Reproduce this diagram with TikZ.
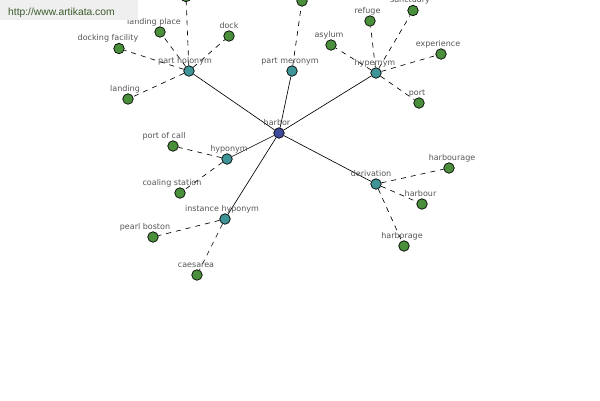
\documentclass[tikz,border=0pt]{standalone}
\usepackage{fontspec}
\setmainfont{DejaVu Sans}
\newfontfamily\wmfont{Liberation Sans}
\usetikzlibrary{backgrounds}
\definecolor{rootc}{HTML}{3F4A9A}
\definecolor{hubc}{HTML}{3E9496}
\definecolor{leafc}{HTML}{4A8F3C}
\definecolor{lblc}{HTML}{555555}
\definecolor{wmbg}{HTML}{EFEFEF}
\definecolor{wmtext}{HTML}{3B5B2B}
\begin{document}
\begin{tikzpicture}[x=1pt,y=-1pt,
  dot/.style={circle,draw=black,line width=0.7pt,minimum size=10.5pt,inner sep=0pt},
  rootdot/.style={dot,fill=rootc},
  hubdot/.style={dot,fill=hubc},
  leafdot/.style={dot,fill=leafc},
  lbl/.style={font=\fontsize{8}{9}\selectfont,text=lblc,inner sep=0pt,text depth=0pt,label distance=2pt},
  rel/.style={draw=black,line width=0.65pt},
  subrel/.style={rel,dash pattern=on 5pt off 5pt}]
\useasboundingbox (0,0) rectangle (600,400);
\clip (0,0) rectangle (600,400);
% root
\node[rootdot,label={[lbl,xshift=-2pt]above:harbor}] (h) at (279,133) {};
% hubs
\node[hubdot,label={[lbl,xshift=-4pt]above:part holonym}] (ph) at (189,71) {};
\node[hubdot,label={[lbl,xshift=-2pt]above:part meronym}] (pm) at (292,71) {};
\node[hubdot,label={[lbl,xshift=-1pt]above:hypernym}] (hy) at (376,73) {};
\node[hubdot,label={[lbl,xshift=2pt]above:hyponym}] (ho) at (227,159) {};
\node[hubdot,label={[lbl,xshift=-3pt]above:instance hyponym}] (ih) at (225,219) {};
\node[hubdot,label={[lbl,xshift=-5pt]above:derivation}] (dv) at (376,184) {};
% leaves of part holonym
\node[leafdot] (phtop) at (186,-3.5) {};
\node[leafdot,label={[lbl,xshift=-6pt]above:landing place}] (lp) at (160,32) {};
\node[leafdot,label={[lbl]above:dock}] (dk) at (229,36) {};
\node[leafdot,label={[lbl,xshift=-11pt]above:docking facility}] (df) at (119,48.5) {};
\node[leafdot,label={[lbl,xshift=-3pt]above:landing}] (ld) at (128,99) {};
% leaf of part meronym
\node[leafdot] (pmtop) at (302,1) {};
% leaves of hypernym
\node[leafdot,label={[lbl,xshift=-2.5pt]above:refuge}] (rf) at (370,21) {};
\node[leafdot,label={[lbl,xshift=-3pt]above:sanctuary}] (sc) at (413,10.5) {};
\node[leafdot,label={[lbl,xshift=-2pt]above:asylum}] (as) at (331,45) {};
\node[leafdot,label={[lbl,xshift=-3pt]above:experience}] (ex) at (441,54) {};
\node[leafdot,label={[lbl,xshift=-2pt]above:port}] (pt) at (419,103) {};
% leaves of hyponym
\node[leafdot,label={[lbl,xshift=-9pt]above:port of call}] (pc) at (173,146) {};
\node[leafdot,label={[lbl,xshift=-8pt]above:coaling station}] (cs) at (180,193) {};
% leaves of instance hyponym
\node[leafdot,label={[lbl,xshift=-8pt]above:pearl boston}] (pb) at (153,237) {};
\node[leafdot,label={[lbl,xshift=-1pt]above:caesarea}] (cz) at (197,275) {};
% leaves of derivation
\node[leafdot,label={[lbl,xshift=3pt]above:harbourage}] (hg) at (449,168) {};
\node[leafdot,label={[lbl,xshift=-1.5pt]above:harbour}] (hr) at (422,204) {};
\node[leafdot,label={[lbl,xshift=-2pt]above:harborage}] (ha) at (404,246) {};
\begin{scope}[on background layer]
  \clip (0,0) rectangle (600,400);
  \draw[rel] (h) -- (ph);
  \draw[rel] (h) -- (pm);
  \draw[rel] (h) -- (hy);
  \draw[rel] (h) -- (ho);
  \draw[rel] (h) -- (ih);
  \draw[rel] (h) -- (dv);
  \draw[subrel] (ph) -- (phtop);
  \draw[subrel] (ph) -- (lp);
  \draw[subrel] (ph) -- (dk);
  \draw[subrel] (ph) -- (df);
  \draw[subrel] (ph) -- (ld);
  \draw[subrel] (pm) -- (pmtop);
  \draw[subrel] (hy) -- (rf);
  \draw[subrel] (hy) -- (sc);
  \draw[subrel] (hy) -- (as);
  \draw[subrel] (hy) -- (ex);
  \draw[subrel] (hy) -- (pt);
  \draw[subrel] (ho) -- (pc);
  \draw[subrel] (ho) -- (cs);
  \draw[subrel] (ih) -- (pb);
  \draw[subrel] (ih) -- (cz);
  \draw[subrel] (dv) -- (hg);
  \draw[subrel] (dv) -- (hr);
  \draw[subrel] (dv) -- (ha);
\end{scope}
% watermark
\node[fill=wmbg,minimum width=138pt,minimum height=20pt,inner sep=0pt,anchor=north west] (wmbox) at (0,0) {};
\node[anchor=base west,inner sep=0pt,text=wmtext,font=\wmfont\fontsize{10.3}{12}\selectfont] (wm) at (8,15) {http://www.artikata.com};
\end{tikzpicture}
\end{document}
